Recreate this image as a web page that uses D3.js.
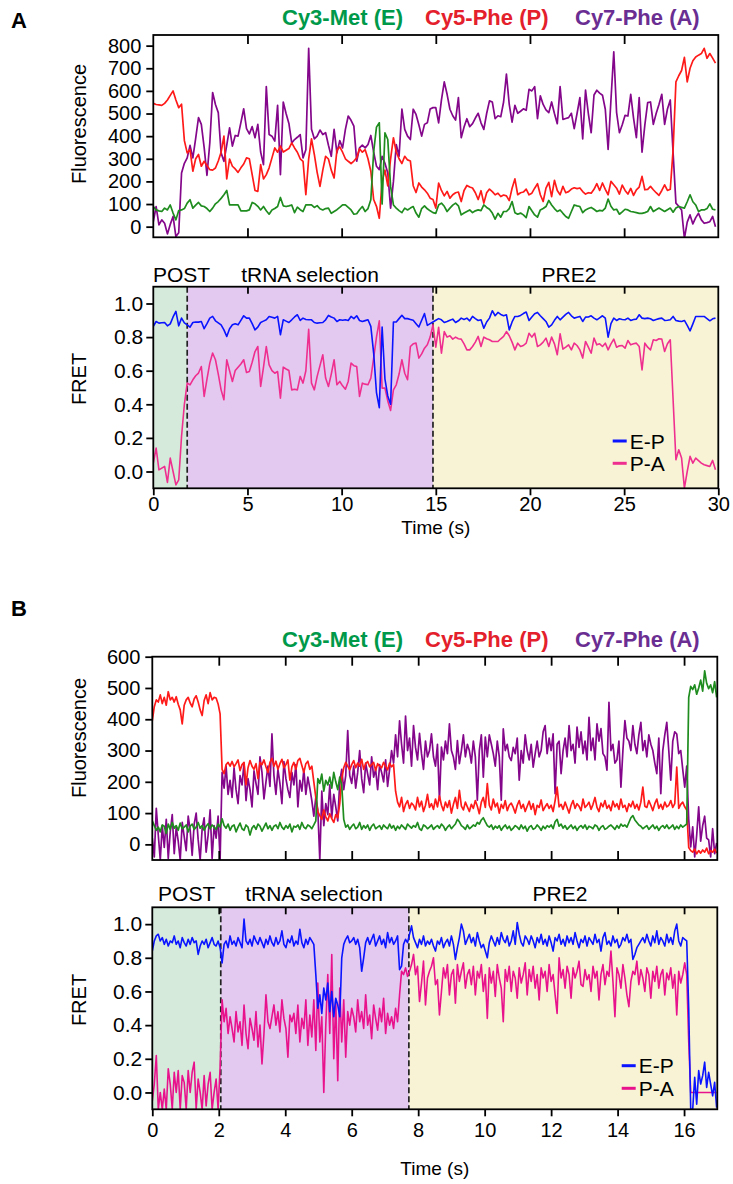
<!DOCTYPE html>
<html>
<head>
<meta charset="utf-8">
<script src="https://cdn.jsdelivr.net/npm/d3@7"></script>
<style>
  body { margin: 0; background: #fff; }
  svg text { font-family: "Liberation Sans", Arial, Helvetica, sans-serif; }
</style>
</head>
<body>
<svg id="fig" width="733" height="1184"></svg>
<script>
// Two smFRET traces (A: 30 s, B: 17 s). Each series is sampled at a fixed
// frame interval, so sample i sits at time i * DT.

const DT_A = 0.15;
const DT_B = 0.06;

const channelNames = ["Cy3-Met (E)", "Cy5-Phe (P)", "Cy7-Phe (A)"];
const fretNames = ["E-P", "P-A"];
const phaseNames = ["POST", "tRNA selection", "PRE2"];

const a_phaseBounds = [1.8, 14.85];
const b_phaseBounds = [2.06, 7.72];

const a_flTicks = [0, 100, 200, 300, 400, 500, 600, 700, 800];
const b_flTicks = [0, 100, 200, 300, 400, 500, 600];
const fretTicks = [0, 0.2, 0.4, 0.6, 0.8, 1.0];
const a_timeTicks = [0, 5, 10, 15, 20, 25, 30];
const b_timeTicks = [0, 2, 4, 6, 8, 10, 12, 14, 16];

// ---- panel A fluorescence ----
const a_cy3 = [
  89, 74, 70, 67, 82, 74, 96, 60, 30, 71, 74, 80, 104, 119, 82, 95, 107, 92, 89, 80,
  67, 82, 101, 111, 125, 141, 160, 96, 96, 96, 96, 70, 70, 70, 74, 107, 101, 90, 74, 89,
  70, 55, 74, 80, 89, 129, 92, 89, 92, 96, 62, 86, 75, 67, 96, 96, 96, 85, 93, 79,
  74, 80, 82, 59, 67, 75, 85, 96, 96, 85, 74, 55, 57, 75, 89, 67, 80, 119, 330, 440,
  459, 100, 415, 385, 178, 96, 82, 71, 62, 82, 74, 82, 89, 60, 42, 80, 92, 79, 70, 62,
  59, 96, 104, 90, 67, 82, 95, 104, 92, 52, 60, 67, 74, 62, 70, 74, 71, 96, 85, 77,
  60, 33, 59, 42, 67, 67, 80, 111, 62, 55, 60, 52, 40, 89, 70, 52, 42, 74, 80, 89,
  116, 96, 80, 67, 74, 59, 45, 37, 67, 96, 92, 89, 62, 74, 80, 85, 77, 67, 72, 70,
  82, 122, 90, 74, 77, 55, 65, 77, 74, 67, 65, 62, 59, 59, 62, 67, 89, 67, 75, 82,
  75, 67, 75, 82, 64, 82, 89, 85, 82, 110, 141, 110, 96, 67, 74, 74, 80, 101, 77, 74
];
const a_cy5 = [
  545, 540, 538, 536, 545, 560, 580, 600, 560, 526, 541, 380, 326, 341, 245, 300, 319, 267, 289, 270,
  252, 250, 259, 290, 329, 400, 211, 299, 267, 255, 240, 260, 277, 304, 300, 230, 160, 156, 274, 211,
  230, 260, 304, 348, 329, 356, 330, 338, 345, 370, 348, 329, 300, 289, 141, 300, 388, 319, 240, 178,
  250, 311, 299, 250, 215, 338, 353, 329, 300, 289, 279, 290, 304, 344, 329, 340, 300, 245, 120, 90,
  37, 200, 250, 180, 300, 393, 330, 300, 279, 311, 295, 290, 181, 151, 193, 175, 163, 148, 126, 120,
  82, 193, 160, 136, 156, 126, 141, 150, 153, 111, 160, 182, 175, 171, 150, 120, 159, 104, 150, 166,
  155, 141, 148, 133, 140, 136, 115, 170, 211, 141, 150, 153, 166, 141, 148, 170, 190, 141, 111, 170,
  196, 133, 205, 160, 141, 178, 150, 155, 166, 172, 168, 171, 155, 144, 150, 148, 165, 190, 160, 193,
  165, 141, 200, 185, 170, 144, 184, 160, 144, 169, 138, 163, 175, 222, 163, 165, 178, 163, 150, 138,
  160, 185, 160, 165, 340, 640, 667, 690, 748, 640, 700, 733, 750, 758, 765, 788, 744, 765, 745, 723
];
const a_cy7 = [
  22, 89, 8, 30, 15, -32, 10, 45, -44, -27, 237, 280, 304, 359, 304, 390, 482, 452, 350, 227,
  370, 593, 540, 504, 326, 289, 360, 437, 356, 403, 400, 460, 521, 433, 410, 442, 393, 452, 330, 274,
  619, 407, 400, 378, 536, 230, 551, 500, 456, 370, 385, 395, 407, 304, 340, 788, 430, 388, 400, 427,
  407, 415, 360, 311, 430, 326, 380, 348, 430, 489, 470, 444, 289, 348, 360, 348, 363, 403, 330, 267,
  252, 311, 280, 237, 82, 200, 363, 311, 519, 430, 400, 385, 519, 496, 450, 400, 452, 459, 520, 526,
  526, 459, 560, 640, 585, 519, 490, 471, 570, 393, 440, 477, 442, 455, 480, 501, 459, 430, 500, 556,
  551, 477, 490, 486, 551, 674, 540, 462, 536, 501, 510, 521, 514, 607, 600, 619, 477, 578, 540, 516,
  504, 551, 500, 455, 619, 474, 478, 482, 501, 433, 500, 570, 388, 603, 500, 415, 582, 603, 590, 581,
  519, 341, 560, 773, 504, 415, 450, 492, 489, 585, 480, 393, 570, 329, 450, 548, 551, 452, 500, 540,
  585, 452, 520, 560, 326, 104, 90, 74, -52, 20, 52, 12, 40, 59, 30, 15, 18, 22, 45, 0
];

// ---- panel A FRET ----
const a_ep = [
  .864, .893, .883, .885, .887, .867, .879, .92, .953, .867, .913, .885, .873, .859, .887, .89, .889, .893, .85, .88,
  .913, .923, .897, .885, .873, .843, .804, .85, .873, .879, .873, .90, .927, .913, .913, .88, .843, .859, .887, .895,
  .903, .923, .918, .913, .923, .814, .903, .895, .887, .903, .92, .933, .899, .913, .905, .903, .903, .887, .883, .885,
  .887, .903, .929, .92, .913, .893, .903, .90, .903, .899, .923, .91, .927, .899, .893, .898, .903, .864, .705, .47,
  .38, .86, .55, .45, .40, .89, .89, .91, .93, .91, .91, .905, .90, .88, .86, .90, .94, .87, .88, .89,
  .90, .91, .903, .887, .893, .90, .907, .887, .897, .913, .905, .913, .897, .923, .91, .899, .903, .853, .89, .913,
  .957, .927, .947, .935, .927, .933, .843, .89, .923, .923, .929, .94, .949, .899, .92, .939, .947, .927, .91, .893,
  .859, .873, .90, .923, .903, .919, .935, .947, .927, .913, .918, .923, .893, .919, .92, .927, .913, .903, .915, .927,
  .913, .80, .88, .913, .899, .909, .905, .903, .913, .899, .905, .907, .933, .913, .91, .913, .909, .899, .905, .91,
  .913, .899, .90, .903, .923, .899, .895, .893, .899, .87, .837, .879, .923, .923, .923, .923, .91, .897, .909, .913
];
const a_pa = [
  .05, .139, .01, .02, .03, -.065, .08, .0, -.08, -.05, .21, .40, .526, .516, .546, .57, .586, .625, .447, .55,
  .645, .705, .665, .58, .486, .427, .665, .60, .536, .601, .621, .64, .665, .589, .595, .65, .714, .744, .506, .62,
  .744, .635, .60, .585, .595, .437, .621, .61, .601, .486, .49, .486, .566, .526, .60, .847, .526, .486, .566, .63,
  .695, .556, .506, .58, .665, .516, .536, .51, .49, .536, .645, .63, .625, .447, .526, .52, .516, .556, .675, .80,
  .897, .496, .496, .42, .363, .486, .516, .58, .665, .585, .546, .744, .76, .764, .675, .70, .734, .754, .80, .873,
  .74, .859, .704, .833, .80, .808, .788, .80, .79, .788, .76, .724, .724, .744, .77, .804, .744, .80, .79, .784,
  .774, .774, .774, .79, .804, .833, .808, .77, .724, .764, .744, .75, .764, .823, .80, .823, .744, .754, .77, .794,
  .744, .80, .76, .695, .82, .728, .74, .754, .724, .764, .75, .724, .675, .774, .74, .704, .794, .754, .76, .744,
  .764, .724, .76, .788, .74, .748, .75, .734, .78, .754, .76, .764, .744, .605, .764, .74, .724, .784, .78, .79,
  .788, .714, .76, .784, .427, .07, .129, .08, -.099, .0, .09, .05, .08, .065, .05, .04, .035, .03, .066, .01
];

// ---- panel B fluorescence ----
const b_cy3 = [
  75, 60, 45, 55, 40, 62, 58, 35, 65, 48, 70, 52, 60, 45, 68, 50, 55, 62, 40, 58,
  65, 48, 55, 70, 52, 60, 45, 58, 66, 50, 62, 55, 48, 65, 55, 82, 60, 52, 65, 45,
  58, 62, 40, 55, 68, 50, 45, 62, 55, 30, 52, 60, 48, 65, 58, 42, 55, 68, 50, 60,
  45, 58, 62, 50, 70, 55, 48, 60, 52, 65, 40, 58, 55, 62, 48, 70, 55, 50, 62, 58,
  50, 62, 75, 210, 195, 225, 170, 205, 190, 215, 180, 230, 200, 175, 215, 190, 80, 55, 62, 48,
  58, 65, 50, 55, 70, 48, 60, 52, 62, 45, 58, 65, 50, 55, 60, 48, 62, 55, 50, 65,
  52, 60, 45, 58, 50, 62, 55, 48, 65, 58, 52, 60, 55, 70, 50, 45, 62, 58, 50, 55,
  62, 48, 55, 60, 52, 65, 58, 45, 55, 62, 50, 58, 65, 80, 72, 60, 55, 48, 62, 50,
  55, 62, 58, 70, 65, 78, 85, 72, 60, 55, 62, 48, 58, 52, 60, 45, 55, 62, 50, 58,
  45, 52, 60, 55, 48, 62, 50, 58, 42, 55, 60, 48, 52, 62, 55, 45, 58, 50, 60, 55,
  62, 50, 72, 80, 58, 65, 52, 60, 48, 55, 62, 50, 58, 45, 55, 60, 52, 62, 48, 58,
  55, 50, 62, 58, 45, 55, 60, 48, 52, 58, 62, 55, 48, 60, 52, 65, 58, 62, 55, 70,
  85, 92, 78, 70, 62, 58, 50, 55, 60, 48, 55, 62, 50, 58, 45, 55, 60, 52, 62, 50,
  55, 62, 48, 58, 50, 62, 55, 60, 65, 470, 505, 495, 510, 480, 500, 525, 490, 555, 515, 498,
  510, 485, 520, 470
];
const b_cy5 = [
  396, 440, 462, 455, 478, 450, 470, 445, 488, 462, 470, 455, 472, 448, 430, 385, 445, 462, 470, 452,
  440, 465, 475, 455, 430, 412, 460, 478, 450, 485, 462, 470, 468, 449, 417, 240, 226, 255, 262, 250,
  265, 248, 258, 270, 236, 255, 262, 190, 245, 268, 250, 240, 258, 210, 262, 255, 270, 248, 230, 262,
  275, 250, 266, 240, 258, 272, 245, 255, 270, 205, 248, 262, 240, 268, 275, 252, 230, 258, 266, 240,
  250, 200, 150, 105, 92, 80, 110, 88, 75, 98, 82, 70, 95, 85, 130, 210, 245, 262, 250, 238,
  255, 268, 245, 260, 250, 272, 240, 258, 265, 248, 255, 262, 236, 258, 250, 245, 262, 250, 238, 260,
  248, 255, 170, 135, 120, 150, 105, 128, 140, 115, 132, 125, 110, 150, 120, 138, 105, 125, 160, 118,
  130, 112, 145, 120, 155, 125, 108, 135, 118, 140, 100, 128, 150, 115, 173, 122, 110, 135, 120, 105,
  128, 115, 140, 122, 98, 135, 150, 118, 194, 125, 110, 145, 120, 132, 100, 128, 115, 140, 108, 125,
  132, 118, 100, 125, 140, 115, 128, 105, 122, 138, 112, 130, 95, 125, 118, 142, 108, 120, 130, 115,
  125, 105, 140, 183, 120, 128, 112, 135, 118, 100, 125, 140, 115, 130, 122, 108, 145, 118, 125, 135,
  112, 128, 150, 118, 105, 132, 120, 140, 115, 125, 108, 138, 120, 130, 112, 145, 118, 125, 105, 130,
  120, 138, 115, 128, 110, 135, 183, 122, 118, 140, 125, 108, 130, 145, 115, 128, 112, 135, 120, 125,
  140, 118, 130, 247, 115, 128, 135, 120, 110, -10, -20, -25, -15, -30, -20, -28, -18, -25, -12, -30,
  -20, -25, -15, -28
];
const b_cy7 = [
  20, -40, 115, 30, -50, 60, -10, 80, -45, 40, 95, -30, 55, 10, -50, 70, 25, -20, 90, 45,
  -35, 65, 100, 15, -50, 50, 85, -25, 30, 110, -45, 60, 20, 90, -50, 230, 180, 250, 160, 205,
  150, 245, 175, 130, 220, 190, 260, 140, 210, 175, 120, 235, 195, 160, 280, 230, 145, 200, 250, 185,
  353, 220, 160, 240, 195, 130, 265, 210, 175, 150, 230, 190, 255, 120, 205, 170, 240, 160, 215, 180,
  140, 90, 150, 110, -50, 170, 60, 130, 95, 190, 85, 160, 120, 75, 200, 240, 175, 220, 364, 220,
  195, 250, 180, 230, 300, 210, 165, 260, 225, 190, 280, 215, 240, 175, 255, 230, 200, 270, 185, 240,
  300, 260, 350, 280, 395, 320, 260, 410, 300, 340, 250, 380, 310, 270, 355, 290, 240, 330, 280, 300,
  353, 280, 250, 320, 141, 311, 270, 330, 290, 385, 300, 279, 240, 332, 258, 300, 350, 280, 320, 300,
  260, 330, 280, 141, 300, 350, 215, 343, 280, 350, 321, 290, 250, 330, 280, 141, 369, 300, 320, 280,
  268, 310, 290, 340, 205, 300, 260, 350, 300, 270, 320, 247, 290, 330, 280, 300, 360, 380, 290, 340,
  300, 353, 162, 320, 330, 226, 300, 340, 280, 380, 300, 320, 260, 375, 310, 360, 290, 330, 270, 406,
  300, 340, 270, 385, 330, 370, 290, 280, 237, 454, 300, 320, 260, 270, 330, 183, 300, 396, 340, 330,
  300, 380, 320, 290, 350, 390, 300, 332, 280, 350, 320, 300, 260, 226, 340, 162, 300, 350, 390, 300,
  205, 330, 360, 353, 290, 300, 240, 183, 250, 80, -8, 56, -40, 30, 120, 10, 60, 90, 20, 14,
  -40, 50, -30, 5
];

// ---- panel B FRET ----
const b_ep = [
  .84, .90, .93, .94, .90, .92, .88, .91, .87, .90, .89, .93, .88, .90, .86, .92, .89, .87, .91, .88,
  .92, .89, .90, .82, .87, .90, .88, .91, .86, .89, .92, .88, .87, .90, .86, .77, .88, .90, .86, .93,
  .88, .90, .87, .92, .89, .86, 1.03, .90, .88, .91, .87, .93, .90, .88, .92, .89, .86, .91, .88, .93,
  .89, .87, .92, .88, .90, .96, .88, .86, .91, .89, .93, .87, .90, .88, .97, .89, .86, .91, .88, .92,
  .90, .88, .70, .50, .58, .47, .62, .55, .65, .48, .60, .45, .56, .52, .45, .80, .88, .91, .93, .89,
  .90, .92, .88, .91, .86, .72, .80, .89, .92, .88, .91, .94, .87, .90, .93, .88, .91, .86, .95, .89,
  .92, .88, .90, .93, .73, .75, .88, .91, .89, .94, .99, .92, .89, .86, .91, .88, .93, .87, .90, .88,
  .91, .87, .84, .90, .88, .92, .86, .89, .91, .87, .93, .88, .79, .86, .92, 1.00, .96, .88, .91, .94,
  .89, .92, .87, .95, .90, .86, .88, .84, .80, .89, .93, .90, .87, .92, .88, .95, .91, .89, .93, .87,
  .90, .96, .88, 1.01, .94, .89, .87, .93, .91, .88, .93, .90, .86, .92, .89, .94, .88, .91, .87, .93,
  .89, .84, .92, .90, .94, .88, .91, .87, .93, .89, .92, .88, .95, .90, .86, .91, .89, .93, .87, .92,
  .90, .88, .94, .89, .91, .84, .92, .95, .88, .90, .87, .93, .89, .91, .86, .88, .92, .90, .94, .89,
  .91, .79, .82, .86, .88, .90, .92, .89, .94, .90, .87, .93, .89, .96, .88, .92, .90, .87, .94, .89,
  .92, .88, .96, 1.00, .90, .87, .92, .91, .90, .50, -.10, -.10, .09, -.07, .13, .05, .10, .18, .03, .12,
  .05, -.02, .06, -.09
];
const b_pa = [
  -.05, .05, .22, -.1, .0, -.1, .02, -.1, .14, .05, -.1, .12, .0, .13, -.1, .1, .06, -.1, .13, .0,
  .12, .18, -.1, .08, .0, -.1, .1, -.08, .05, .12, -.1, .0, .08, -.1, .15, .55, .42, .50, .35, .45,
  .38, .30, .48, .36, .42, .28, .52, .35, .26, .44, .38, .31, .48, .27, .40, .17, .35, .58, .42, .38,
  .45, .52, .40, .48, .36, .55, .44, .38, .21, .46, .42, .47, .35, .52, .30, .44, .38, .55, .28, .46,
  .33, .55, .25, .65, .30, .45, .00, .40, .70, .35, .82, .20, .55, .07, .62, .30, .55, .21, .48, .40,
  .50, .45, .36, .55, .42, .48, .38, .58, .40, .46, .32, .52, .44, .37, .50, .42, .56, .35, .47, .40,
  .45, .38, .50, .42, .58, .72, .70, .74, .69, .72, .76, .82, .70, .75, .54, .65, .78, .52, .68, .72,
  .75, .80, .64, .67, .46, .60, .74, .68, .76, .58, .70, .73, .53, .76, .66, .72, .77, .62, .70, .73,
  .64, .75, .58, .72, .68, .76, .60, .70, .44, .74, .65, .72, .57, .76, .68, .62, .42, .73, .66, .75,
  .60, .72, .68, .56, .74, .65, .70, .77, .58, .73, .66, .75, .62, .70, .55, .74, .68, .72, .60, .76,
  .66, .70, .58, .47, .80, .68, .73, .62, .75, .70, .56, .74, .68, .72, .78, .64, .63, .73, .67, .70,
  .60, .75, .68, .72, .55, .70, .76, .64, .72, .69, .84, .66, .45, .74, .70, .62, .76, .68, .58, .51,
  .66, .72, .70, .78, .64, .73, .68, .60, .74, .70, .56, .72, .66, .75, .62, .70, .73, .58, .71, .67,
  .74, .62, .70, .46, .72, .65, .70, .77, .70, .30, .0, .0, .0, .0, .0, .0, .0, .0, .0, .0,
  0, 0, 0, 0
];

const GREEN = "#1e8c1e", RED = "#ff1a1a", PURPLE = "#84068a", BLUE = "#0a14ff";
const HEAD_COLORS = ["#00994a", "#e3202b", "#6a2d91"];
const PHASE_FILL = ["#d6eadc", "#e3c9f0", "#f9f3d6"];
const FONT_TICK = 20;

const svg = d3.select("#fig");
let clipId = 0;

function clipRect(x0, y0, x1, y1) {
  const id = `clip${clipId++}`;
  svg.append("clipPath").attr("id", id).append("rect")
    .attr("x", x0).attr("y", y0).attr("width", x1 - x0).attr("height", y1 - y0);
  return `url(#${id})`;
}

function styleAxis(sel, size) {
  sel.select(".domain").remove();
  sel.selectAll(".tick line").attr("stroke", "#000").attr("stroke-width", 1.8);
  sel.selectAll(".tick text").attr("fill", "#000")
    .style("font-size", `${size}px`).style("font-family", '"Liberation Sans", Arial, sans-serif');
}

function drawPanel(p) {
  const g = svg.append("g");
  const x = d3.scaleLinear(p.xDomain, [p.left, p.right]);
  const yF = d3.scaleLinear(p.flDomain, [p.flBottom, p.flTop]);
  const yR = d3.scaleLinear([-0.1, 1.1], [p.frBottom, p.frTop]);

  // panel letter and channel header
  g.append("text").attr("x", 11).attr("y", p.letterY).attr("font-weight", "bold")
    .attr("font-size", 22).text(p.letter);
  channelNames.forEach((name, k) => {
    g.append("text").attr("x", p.headX[k]).attr("y", p.headY).attr("font-weight", "bold")
      .attr("font-size", 22).attr("fill", HEAD_COLORS[k]).text(name);
  });

  // ---------- fluorescence ----------
  const clipF = clipRect(p.left, p.flTop, p.right, p.flBottom);
  const lineF = d3.line().x((d, i) => x(i * p.dt)).y((d) => yF(d));
  const fl = g.append("g").attr("clip-path", clipF);
  [[p.cy7, PURPLE], [p.cy5, RED], [p.cy3, GREEN]].forEach(([arr, col]) => {
    fl.append("path").datum(arr).attr("d", lineF).attr("fill", "none")
      .attr("stroke", col).attr("stroke-width", 1.7).attr("stroke-linejoin", "round");
  });

  const inner = p.timeTicks.filter((t) => t > p.xDomain[0] && t < p.xDomain[1]);
  g.append("g").attr("transform", `translate(0,${p.flTop})`)
    .call(d3.axisTop(x).tickValues(inner).tickSize(-9).tickFormat(""))
    .call((s) => styleAxis(s, FONT_TICK));
  g.append("g").attr("transform", `translate(0,${p.flBottom})`)
    .call(d3.axisBottom(x).tickValues(inner).tickSize(-9).tickFormat(""))
    .call((s) => styleAxis(s, FONT_TICK));
  g.append("g").attr("transform", `translate(${p.left},0)`)
    .call(d3.axisLeft(yF).tickValues(p.flTicks).tickSize(7).tickPadding(5).tickFormat(d3.format("d")))
    .call((s) => styleAxis(s, FONT_TICK));
  g.append("rect").attr("x", p.left).attr("y", p.flTop)
    .attr("width", p.right - p.left).attr("height", p.flBottom - p.flTop)
    .attr("fill", "none").attr("stroke", "#000").attr("stroke-width", 1.8);
  g.append("text").attr("transform", `translate(86,${p.flLabelY}) rotate(-90)`)
    .attr("text-anchor", "middle").attr("font-size", 20).text("Fluorescence");

  // ---------- FRET ----------
  const edges = [p.xDomain[0], ...p.bounds, p.xDomain[1]];
  phaseNames.forEach((name, k) => {
    g.append("rect").attr("x", x(edges[k])).attr("y", p.frTop)
      .attr("width", x(edges[k + 1]) - x(edges[k])).attr("height", p.frBottom - p.frTop)
      .attr("fill", PHASE_FILL[k]);
    g.append("text").attr("x", p.phaseX[k]).attr("y", p.phaseY)
      .attr("text-anchor", p.phaseAnchor[k]).attr("font-size", 21).text(name);
  });
  p.bounds.forEach((b) => {
    g.append("line").attr("x1", x(b)).attr("x2", x(b)).attr("y1", p.frTop).attr("y2", p.frBottom)
      .attr("stroke", "#222").attr("stroke-width", 1.7).attr("stroke-dasharray", "6,3");
  });

  const clipR = clipRect(p.left, p.frTop, p.right, p.frBottom);
  const lineR = d3.line().x((d, i) => x(i * p.dt)).y((d) => yR(d));
  const fr = g.append("g").attr("clip-path", clipR);
  fr.append("path").datum(p.pa).attr("d", lineR).attr("fill", "none")
    .attr("stroke", p.pink).attr("stroke-width", 1.6).attr("stroke-linejoin", "round");
  fr.append("path").datum(p.ep).attr("d", lineR).attr("fill", "none")
    .attr("stroke", BLUE).attr("stroke-width", 1.6).attr("stroke-linejoin", "round");

  g.append("g").attr("transform", `translate(0,${p.frTop})`)
    .call(d3.axisTop(x).tickValues(inner).tickSize(-7).tickFormat(""))
    .call((s) => styleAxis(s, FONT_TICK));
  g.append("g").attr("transform", `translate(0,${p.frBottom})`)
    .call(d3.axisBottom(x).tickValues(p.timeTicks).tickSize(7).tickPadding(p.xPad).tickFormat(d3.format("d")))
    .call((s) => styleAxis(s, FONT_TICK));
  g.append("g").attr("transform", `translate(${p.left},0)`)
    .call(d3.axisLeft(yR).tickValues(fretTicks).tickSize(7).tickPadding(3).tickFormat(d3.format(".1f")))
    .call((s) => styleAxis(s, 21));
  g.append("rect").attr("x", p.left).attr("y", p.frTop)
    .attr("width", p.right - p.left).attr("height", p.frBottom - p.frTop)
    .attr("fill", "none").attr("stroke", "#000").attr("stroke-width", 1.8);
  g.append("text").attr("transform", `translate(86,${p.frLabelY}) rotate(-90)`)
    .attr("text-anchor", "middle").attr("font-size", 20).text("FRET");
  g.append("text").attr("x", (p.left + p.right) / 2).attr("y", p.timeY)
    .attr("text-anchor", "middle").attr("font-size", 19).text("Time (s)");

  // legend
  [BLUE, p.pink].forEach((col, k) => {
    const yy = p.legY[k];
    g.append("line").attr("x1", p.legX).attr("x2", p.legX + 14).attr("y1", yy).attr("y2", yy)
      .attr("stroke", col).attr("stroke-width", 3);
    g.append("text").attr("x", p.legX + 17).attr("y", yy).attr("dy", "0.36em")
      .attr("font-size", 21).text(fretNames[k]);
  });
}

drawPanel({
  letter: "A", letterY: 28, headY: 25, headX: [282, 425, 575],
  dt: DT_A, xDomain: [0, 30], timeTicks: a_timeTicks, bounds: a_phaseBounds,
  left: 153.3, right: 718.3,
  flTop: 35, flBottom: 237.3, flDomain: [-47, 847], flTicks: a_flTicks, flLabelY: 124,
  frTop: 286.7, frBottom: 488.3, frLabelY: 379,
  phaseX: [153, 310, 569], phaseAnchor: ["start", "middle", "middle"], phaseY: 281.5,
  xPad: 2, timeY: 534,
  legX: 612.7, legY: [441, 463.3],
  cy3: a_cy3, cy5: a_cy5, cy7: a_cy7, ep: a_ep, pa: a_pa, pink: "#ef2f8f"
});

drawPanel({
  letter: "B", letterY: 616, headY: 647, headX: [282, 425, 575],
  dt: DT_B, xDomain: [0, 17], timeTicks: b_timeTicks, bounds: b_phaseBounds,
  left: 152.3, right: 717.3,
  flTop: 656.7, flBottom: 860, flDomain: [-50, 600], flTicks: b_flTicks, flLabelY: 738,
  frTop: 907.3, frBottom: 1109.3, frLabelY: 1000,
  phaseX: [186.7, 314, 560], phaseAnchor: ["middle", "middle", "middle"], phaseY: 900.5,
  xPad: 7, timeY: 1175,
  legX: 621.7, legY: [1065.7, 1088.3],
  cy3: b_cy3, cy5: b_cy5, cy7: b_cy7, ep: b_ep, pa: b_pa, pink: "#e8138c"
});
</script>
</body>
</html>
